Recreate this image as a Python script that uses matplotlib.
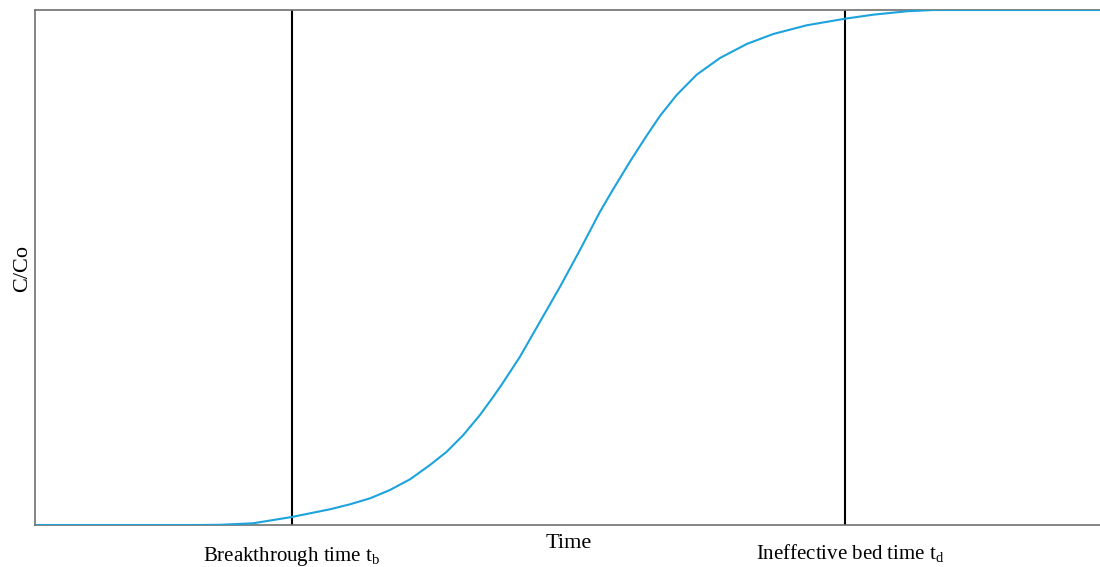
import matplotlib
matplotlib.use("Agg")
from matplotlib import pyplot as plt
from matplotlib import transforms

# breakthrough curve (time in % of axis, C/Co)
time = [0, 15.49, 17.37, 20.47, 24.10, 25.82, 27.70, 29.58, 31.46, 33.33,
        35.21, 37.09, 38.66, 40.22, 41.78, 43.03, 43.90, 45.54, 47.42, 49.30,
        51.17, 53.05, 54.30, 55.87, 57.35, 58.69, 60.25, 62.13, 64.32, 66.83,
        69.32, 72.46, 76.06, 78.71, 81.85, 84.35, 100]
c_co = [0, 0, 0.0004, 0.0033, 0.0155, 0.0227, 0.0305, 0.0402, 0.0518, 0.0680,
        0.0887, 0.1165, 0.1423, 0.1748, 0.2136, 0.2491, 0.2751, 0.3268, 0.3948, 0.4627,
        0.5340, 0.6083, 0.6524, 0.7058, 0.7534, 0.7945, 0.8350, 0.8744, 0.9068, 0.9340,
        0.9534, 0.9703, 0.9831, 0.9909, 0.9975, 1.0, 1.0]

t_b = 24.1
t_d = 76.1

plt.rcParams['font.family'] = ['Liberation Serif', 'DejaVu Serif']
plt.rcParams['mathtext.fontset'] = 'custom'
plt.rcParams['mathtext.rm'] = 'Liberation Serif'
plt.rcParams['mathtext.it'] = 'Liberation Serif:italic'

fig = plt.figure(figsize=(11, 5.67), dpi=100)
ax = fig.add_axes([35 / 1100, 42 / 567, 1 - 35 / 1100, 515 / 567])

ax.plot(time, c_co, color='#1ca3dd', lw=1.5, solid_joinstyle='round', zorder=3)
ax.axvline(t_b, color='black', lw=1.5, zorder=2)
ax.axvline(t_d, color='black', lw=1.5, zorder=2)

ax.set_xlim(0, 100)
ax.set_ylim(0, 1)
ax.set_xticks([])
ax.set_yticks([])
for side in ['left', 'bottom', 'top']:
    ax.spines[side].set_color('#707070')
    ax.spines[side].set_linewidth(1.2)
ax.spines['right'].set_visible(False)

trans = transforms.blended_transform_factory(ax.transData, fig.transFigure)
ax.text(t_b, 1 - 561 / 567, r'Breakthrough time t$_\mathrm{b}$', transform=trans,
        ha='center', va='baseline', fontsize=15)
ax.text(t_d + 0.45, 1 - 559.5 / 567, r'Ineffective bed time t$_\mathrm{d}$', transform=trans,
        ha='center', va='baseline', fontsize=15)
fig.text(569 / 1100, 1 - 548 / 567, 'Time', ha='center', va='baseline', fontsize=16)
fig.text(22.5 / 1100, 1 - 269 / 567, 'C/Co', ha='center', va='center', rotation=90, fontsize=16)

fig.savefig('out.png', dpi=100)
